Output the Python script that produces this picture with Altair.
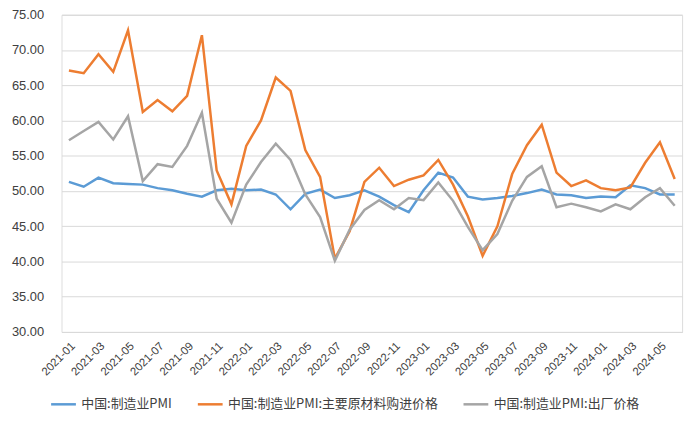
import altair as alt
import pandas as pd

months = [f"{y}-{m:02d}" for y in range(2021, 2025) for m in range(1, 13)][:42]

pmi = [51.3, 50.6, 51.9, 51.1, 51.0, 50.9, 50.4, 50.1, 49.6, 49.2, 50.1, 50.3,
       50.1, 50.2, 49.5, 47.4, 49.6, 50.2, 49.0, 49.4, 50.1, 49.2, 48.0, 47.0,
       50.1, 52.6, 51.9, 49.2, 48.8, 49.0, 49.3, 49.7, 50.2, 49.5, 49.4, 49.0,
       49.2, 49.1, 50.8, 50.4, 49.5, 49.5]
raw_price = [67.1, 66.7, 69.4, 66.9, 72.8, 61.2, 62.9, 61.3, 63.5, 72.1, 52.9, 48.1,
             56.4, 60.0, 66.1, 64.2, 55.8, 52.0, 40.4, 44.3, 51.3, 53.3, 50.7, 51.6,
             52.2, 54.4, 50.9, 46.4, 40.8, 45.0, 52.4, 56.5, 59.4, 52.6, 50.7, 51.5,
             50.4, 50.1, 50.5, 54.0, 56.9, 51.7]
out_price = [57.2, 58.5, 59.8, 57.3, 60.6, 51.4, 53.8, 53.4, 56.4, 61.1, 48.9, 45.5,
             50.9, 54.1, 56.7, 54.4, 49.5, 46.3, 40.1, 44.5, 47.3, 48.7, 47.4, 49.0,
             48.7, 51.2, 48.6, 44.9, 41.6, 43.9, 48.6, 52.0, 53.5, 47.7, 48.2, 47.7,
             47.1, 48.1, 47.4, 49.1, 50.4, 47.9]

series_names = ["中国:制造业PMI", "中国:制造业PMI:主要原材料购进价格", "中国:制造业PMI:出厂价格"]
colors = ["#5B9BD5", "#ED7D31", "#A5A5A5"]
label_months = months[::2]
y_ticks = [30, 35, 40, 45, 50, 55, 60, 65, 70, 75]

rows = []
for name, vals in zip(series_names, [pmi, raw_price, out_price]):
    for m, v in zip(months, vals):
        rows.append({"month": m, "value": v, "series": name})
df = pd.DataFrame(rows)

font = "Liberation Sans"
cjk = "Noto Sans CJK SC"

chart = alt.Chart(df).mark_line(strokeWidth=2.5).encode(
    x=alt.X("month:O", sort=months,
            axis=alt.Axis(values=label_months, labelAngle=-45, title=None, ticks=False,
                          domainColor="#D9D9D9", labelColor="#404040", labelFontSize=11.5,
                          labelFont=font, labelPadding=8)),
    y=alt.Y("value:Q", scale=alt.Scale(domain=[30, 75], nice=False, zero=False),
            axis=alt.Axis(values=y_ticks, format=".2f", title=None, domain=False, ticks=False,
                          gridColor="#D9D9D9", labelPadding=18, labelFontSize=13,
                          labelFont=font, labelColor="#404040")),
    color=alt.Color("series:N", sort=series_names,
                    scale=alt.Scale(domain=series_names, range=colors),
                    legend=alt.Legend(title=None, orient="none", legendX=-12, legendY=379,
                                      direction="horizontal", symbolType="stroke",
                                      symbolStrokeWidth=2.5, symbolSize=625,
                                      labelFontSize=13, labelFont=cjk, labelColor="#404040",
                                      labelLimit=400, columnPadding=20, labelOffset=4)),
).properties(
    width=626, height=320,
    autosize=alt.AutoSizeParams(type="none"),
    padding={"left": 54, "top": 5, "right": 10, "bottom": 85},
).configure_view(stroke=None).configure(background="white")

chart.save("out.html", embed_options={"renderer": "svg", "actions": False})
